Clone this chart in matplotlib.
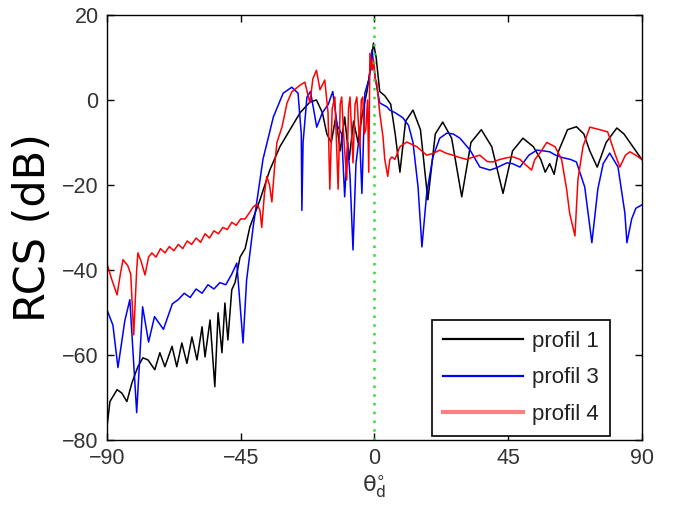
import matplotlib
matplotlib.use('Agg')
import matplotlib.pyplot as plt

# profil 1 (black)
x_p1 = [-90, -89, -86.6, -85, -83.3, -81.6, -79.6, -77.9, -76.2, -73.9, -72.2, -70.5, -68.1, -66.5,
        -64.8, -63.1, -61.4, -59.7, -58, -57, -55.3, -53.7, -52.6, -51.3, -50.3, -49.3, -48, -46.9,
        -45.2, -43.5, -41.9, -38.5, -35.2, -31.8, -28.4, -25, -21.7, -19.5, -17.5, -16, -14.5, -13,
        -11.5, -10, -8.5, -7, -5.5, -4, -2.5, -1.2, -0.3, 0.6, 1.8, 3.5, 5.5, 7, 8.6, 10.5, 13, 15.5,
        18, 20.5, 23, 26, 29.4, 32.5, 36, 39.5, 43.3, 46.5, 50, 53.5, 56, 57.5, 59, 60.5, 62, 65, 68,
        70.5, 72.5, 75, 78, 81.6, 84, 87, 90]
y_p1 = [-77, -71, -68.2, -69, -71, -66.6, -62.8, -60.7, -61.2, -63.5, -59.5, -62.8, -58, -62.8,
        -57.2, -62, -55.8, -61.2, -53.4, -60.5, -51.8, -67.5, -50.1, -59.5, -47.8, -56.5, -44.7, -43,
        -37, -35, -29.9, -23.5, -16.5, -11, -7, -3, -0.5, 0, -3, -8, -10, -4,
        -12, -4, -14, -5, -10, -3, 2, 8, 13.4, 10, 2, 1, -1, -8, -17, -5, -2.4, -7,
        -23.5, -8, -5.2, -9, -22.8, -10, -7, -11, -22, -12, -9, -11, -14, -17, -15, -17.5, -12, -7, -6.3,
        -8, -12, -15.8, -10, -6.6, -8, -11, -14]

# profil 3 (blue)
x_p3 = [-90, -88, -86.3, -84, -82.3, -80, -78, -76, -74, -71, -68, -66, -64, -62, -60, -58, -56,
        -54, -52, -50, -48, -46.3, -44.2, -43, -40.8, -37.5, -34, -30.7, -27.8, -25.7, -24.6, -24.4,
        -24, -22.7, -21.5, -19.4, -17.5, -15.5, -14, -12.5, -11, -10, -9, -8.2, -7.2, -6.2, -5, -4.2,
        -3.2, -1.8, -0.8, 0.3, 1.8, 4.2, 5.2, 7, 9.6, 11.5, 13, 14.7, 16, 17.6, 19.7, 22, 24.4, 26.5,
        28.8, 32.2, 35.5, 38.9, 41, 44.6, 46.5, 49, 52, 54.7, 57, 59, 61, 63.5, 66, 68, 70.8, 73.2,
        75.2, 77, 79.2, 82, 84.3, 85, 86.6, 88, 90]
y_p3 = [-49.4, -53, -63, -52, -47, -73.6, -48.7, -57, -51, -54, -48, -47, -45.5, -46.5, -44.5, -45.5,
        -43.5, -44.5, -43, -43.5, -41, -38.4, -57.2, -42.4, -29.9, -14, -4, 1.6, 3, 1.6, -8, -26,
        -10, 0.7, 2, -6.4, -3, -1, 2, -6, -8, -22.8, -10, -18, -35.3, -15, -8, -22,
        1.6, 5, 11.8, 5, -0.7, -1.6, -2.4, -3, -4.2, -6, -10, -20.5, -34.6, -22, -13.4, -9, -7.8, -8,
        -9, -11.8, -15.8, -16.5, -16, -14.8, -15, -15.8, -13, -11.8, -12, -12.2, -13, -13.6, -14, -14.6, -20.5, -33.6,
        -21, -15, -12.5, -15.8, -26.6, -33.6, -28, -25.5, -24.7]

# profil 4 (red)
x_p4 = [-90, -88.5, -86.6, -85.5, -84.6, -83, -82, -81, -80, -79.6, -78.5, -77.2, -76, -74.9, -73.5,
        -72, -70.5, -69, -67.5, -66, -64.5, -63, -61.5, -60, -58.5, -57, -55.5, -54, -52.5, -51, -49.5,
        -48, -46.5, -45, -43.5, -42, -40.8, -39.5, -38.5, -37.9, -37, -36.2, -35.3, -34.5, -33.5, -32.8,
        -31.1, -29.4, -27.8, -25, -23.4, -21.7, -20.7, -19.5, -18.3, -16.7, -15.6, -15, -14.2, -13.3,
        -12.2, -11.5, -11, -10.2, -9.3, -8.7, -8.2, -7.2, -6.5, -5.9, -4.9, -4.4, -3.9, -3.4, -2.9, -2.3,
        -1.9, -1.5, -0.8, -0.3, 0.3, 0.8, 1.8, 2.9, 3.5, 4.5, 5.2, 5.9, 6.9, 8.6, 10.9, 14.3, 17.6, 20,
        22, 24, 26.4, 28.5, 31.1, 33, 35.5, 38, 39.9, 42.2, 44.6, 46.7, 49, 50.5, 52.9, 54, 55.7, 58,
        60.8, 63, 64.7, 65.7, 67.5, 68.5, 70.2, 72.5, 75.9, 78.5, 80.9, 82.6, 84.5, 86, 88, 90]
y_p4 = [-38.5, -42, -45.9, -41, -37.6, -39, -41, -55.3, -40, -36, -38, -41.2, -37, -36, -37,
        -35, -36, -34.5, -35.5, -34, -35, -33.2, -34, -32.5, -33.5, -31.5, -32.5, -30.8, -31.5, -30, -30.5,
        -28.8, -29.5, -28, -28, -26.5, -25.2, -24.5, -26, -30, -22, -18, -20, -24, -15, -10,
        -6.4, -0.7, 1.9, 3.5, 4.2, -0.7, 5, 7, 2.4, 4.7, -3, -21, -2, 0.7,
        -21, -1, 0.7, -10, -18.8, -2, 0.7, -14.8, -1, 0.7, -11, 0, 0.7, -8, -7, 0,
        -17, 11, 7, 9.5, 5, 4, -3, -8.7, -14, -18, -14, -13.4, -14, -11, -9.9, -11, -13, -12.5,
        -11.8, -12.5, -13, -13.5, -14, -13.5, -13, -14.5, -14.6, -14, -13.6, -13.4, -14, -15, -16.5, -14, -12.5, -10,
        -11, -14, -21, -26.6, -32, -18.8, -11, -6.4, -7, -7.5, -12.5, -15.8, -13, -12.2, -13, -14]

x_ticks = [-90, -45, 0, 45, 90]
y_ticks = [-80, -60, -40, -20, 0, 20]
labels = ['profil 1', 'profil 3', 'profil 4']

fig = plt.figure(figsize=(6.77, 5.18), dpi=100)
ax = fig.add_axes([0.158, 0.151, 0.790, 0.820])

ax.plot(x_p1, y_p1, color='black', lw=1.1, label=labels[0])
ax.plot(x_p3, y_p3, color='#0000ff', lw=1.1, label=labels[1])
ax.plot(x_p4, y_p4, color='#ff0000', lw=1.1, label=labels[2])
ax.axvline(0, color='#33dd33', lw=1.8, ls=(0, (1, 2.5)))

ax.set_xlim(-90, 90)
ax.set_ylim(-80, 20)
ax.set_xticks(x_ticks)
ax.set_yticks(y_ticks)
ax.tick_params(direction='in', top=True, right=True, length=5, width=1,
               labelsize=15.5, labelcolor='#333333', pad=6)
for lab in ax.get_xticklabels() + ax.get_yticklabels():
    lab.set_family('Liberation Sans')
for s in ax.spines.values():
    s.set_linewidth(1.0)

ax.set_ylabel('RCS (dB)', fontsize=31, labelpad=6)
ax.set_xlabel(r'$\mathrm{\theta}_\mathrm{d}^{\circ}$', fontsize=16, labelpad=3, color='#333333')

leg = ax.legend(loc='lower right', bbox_to_anchor=(0.94, 0.009), fancybox=False,
                edgecolor='black', framealpha=1, handlelength=3.6, borderpad=0.5,
                labelspacing=0.7, handletextpad=0.4, borderaxespad=0,
                prop={'family': 'Liberation Sans', 'size': 16})
leg.get_frame().set_linewidth(1.2)
for t in leg.get_texts():
    t.set_color('#222222')
for h in leg.get_lines():
    h.set_linewidth(1.6)
leg.get_lines()[2].set_color('#ff8080')
leg.get_lines()[2].set_linewidth(3)

fig.savefig('out.png', dpi=100)
